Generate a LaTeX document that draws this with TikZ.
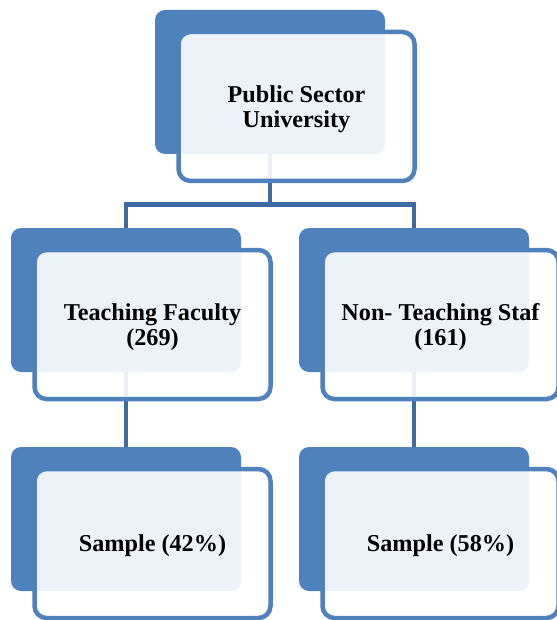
\documentclass[tikz,border=0pt]{standalone}
\usepackage{fontspec}
\setmainfont{Liberation Serif}
\usetikzlibrary{positioning}
\definecolor{boxblue}{HTML}{4F81BD}
\definecolor{lineblue}{HTML}{3E6AA3}
\newcommand{\boxtext}[1]{\rule{0pt}{22pt}#1}

\begin{document}
\begin{tikzpicture}[x=1pt,y=-1pt,font=\fontsize{24.2}{25.5}\selectfont\bfseries]
\tikzstyle{back}=[rectangle,rounded corners=10pt,fill=boxblue,minimum width=230pt,minimum height=144pt,inner sep=0pt,outer sep=0pt,anchor=north west]
\tikzstyle{front}=[rectangle,rounded corners=12pt,draw=boxblue,line width=4.5pt,fill=white,fill opacity=0.9,text opacity=1,minimum width=236pt,minimum height=149pt,align=center,outer sep=0pt]
\tikzstyle{link}=[-,draw=lineblue,line width=4.5pt]

\useasboundingbox (0,0) rectangle (556,620);

% back plates
\node[back] (uniB) at (155,10) {};
\node[back] (teachB) at (11,228) {};
\node[back] (staffB) at (299,228) {};
\node[back] (sampAB) at (11,447) {};
\node[back] (sampBB) at (299,447) {};

% connectors
\coordinate (split) at ([yshift=-50.5pt]uniB.south);
\draw[link] (uniB.south) -- (split) -| (teachB.north);
\draw[link] (split) -| (staffB.north);
\draw[link] (teachB.south) -- (sampAB.north);
\draw[link] (staffB.south) -- (sampBB.north);

% front boxes
\node[front, below right=22pt and 23.5pt of uniB.north west] (uni) {\boxtext{Public Sector\\University}};
\node[front, below right=22pt and 23.5pt of teachB.north west] (teach) {\boxtext{Teaching Faculty\\(269)}};
\node[front, below right=22pt and 23.5pt of staffB.north west] (staff) {\boxtext{Non- Teaching Staf\\(161)}};
\node[front, below right=22pt and 23.5pt of sampAB.north west] (sampA) {\boxtext{Sample (42\%)}};
\node[front, below right=22pt and 23.5pt of sampBB.north west] (sampB) {\boxtext{Sample (58\%)}};
\end{tikzpicture}
\end{document}
